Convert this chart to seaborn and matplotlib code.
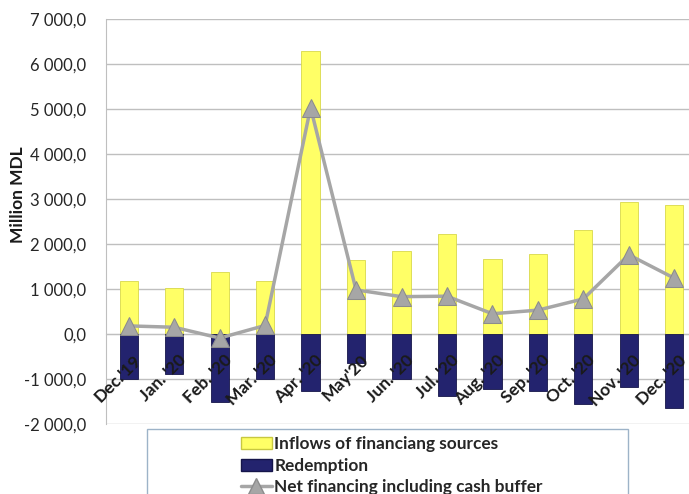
import numpy as np
import matplotlib
matplotlib.use("Agg")
import matplotlib.pyplot as plt
import matplotlib.transforms as mtransforms
from matplotlib.patches import Rectangle, Patch
from matplotlib.lines import Line2D
from matplotlib.ticker import FuncFormatter, FixedLocator
import seaborn as sns

# Data (million MDL)
months = ["Dec.'19", "Jan. '20", "Feb. '20", "Mar. '20", "Apr. '20", "May'20", "Jun. '20",
          "Jul. '20", "Aug. '20", "Sep. '20", "Oct. '20", "Nov. '20", "Dec. '20"]
inflows = [1170, 1020, 1380, 1180, 6290, 1640, 1840, 2220, 1660, 1780, 2310, 2930, 2870]
redemption = [-1000, -890, -1510, -1000, -1270, -640, -1000, -1380, -1220, -1260, -1560, -1180, -1640]
net_financing = [180, 150, -90, 190, 5030, 980, 830, 840, 450, 530, 780, 1760, 1240]

sns.set_style("white")
plt.rcParams['font.family'] = ['Lato', 'DejaVu Sans']

fig = plt.figure(figsize=(6.89, 4.94), dpi=100)
W, H = 689, 494
ax = fig.add_axes([106 / W, (H - 424) / H, (697 - 106) / W, (424 - 19) / H])

yellow = '#FFFF66'
navy = '#23236E'
grey = '#A6A6A6'

sns.barplot(x=months, y=inflows, color=yellow, width=0.4, edgecolor='#D8D84A',
            linewidth=0.6, saturation=1, ax=ax, zorder=2)
sns.barplot(x=months, y=redemption, color=navy, width=0.4, edgecolor='#15154A',
            linewidth=0.6, saturation=1, ax=ax, zorder=2)
sns.lineplot(x=np.arange(len(months)), y=net_financing, color=grey, linewidth=2.5,
             marker='^', markersize=13, markerfacecolor=grey, markeredgecolor='#8C8C8C',
             ax=ax, zorder=3)

ax.set_xlim(-0.5, len(months) - 0.5)
ax.set_ylim(-2000, 7000)
ax.set_yticks(np.arange(-2000, 7001, 1000))


def fmt(v, pos):
    s = f"{abs(v):,.1f}".replace(",", " ").replace(".", ",")
    return ("-" if v < 0 else "") + s


ax.yaxis.set_major_formatter(FuncFormatter(fmt))
ax.tick_params(axis='y', labelsize=12, length=0, pad=14, colors='#262626')
ax.grid(axis='y', color='#BFBFBF', linewidth=1)
ax.set_axisbelow(True)

for side in ['top', 'right']:
    ax.spines[side].set_visible(False)
ax.spines['left'].set_color('#BFBFBF')

# x-axis at zero with category boundary ticks
ax.spines['bottom'].set_position(('data', 0))
ax.spines['bottom'].set_color('#BFBFBF')
ax.spines['bottom'].set_zorder(1)
ax.xaxis.set_zorder(5)
ax.xaxis.set_minor_locator(FixedLocator(np.arange(0.5, len(months) - 0.5, 1)))
ax.tick_params(axis='x', which='minor', length=4, color='#BFBFBF', direction='out')
ax.tick_params(axis='x', which='major', length=0, pad=0)
ax.set_xticks(range(len(months)))
offset = mtransforms.ScaledTranslation(4 / 100, -18 / 100, fig.dpi_scale_trans)
ax.set_xticklabels(months, rotation=45, ha='right', va='top', rotation_mode='anchor',
                   fontsize=12.5, fontweight='bold', color='#1A1A1A')
for lab in ax.get_xticklabels():
    lab.set_transform(lab.get_transform() + offset)

ax.set_xlabel('')
ax.set_ylabel('Million MDL', fontsize=12.5, fontweight='bold', color='#1A1A1A')
ax.yaxis.set_label_coords(-0.135, 0.565)

# legend box
fig.patches.append(Rectangle((147 / W, -0.05), (628 - 147) / W, (H - 429) / H + 0.05,
                             transform=fig.transFigure, facecolor='white',
                             edgecolor='#9DB3C8', linewidth=1, zorder=5))
handles = [Patch(facecolor=yellow, edgecolor='#C8C840'),
           Patch(facecolor=navy, edgecolor='#15154A'),
           Line2D([], [], color=grey, linewidth=2.5, marker='^', markersize=11,
                  markerfacecolor=grey, markeredgecolor='#8C8C8C')]
labels = ['Inflows of financiang sources', 'Redemption', 'Net financing including cash buffer']
leg = fig.legend(handles, labels, loc='upper left', bbox_to_anchor=(234 / W, 1 - 429 / H),
                 frameon=False, prop={'weight': 'bold', 'size': 12.4}, handlelength=1.8,
                 handletextpad=0.15, labelspacing=0.33, borderaxespad=0)
leg.set_zorder(6)

fig.savefig('out.png', dpi=100)
